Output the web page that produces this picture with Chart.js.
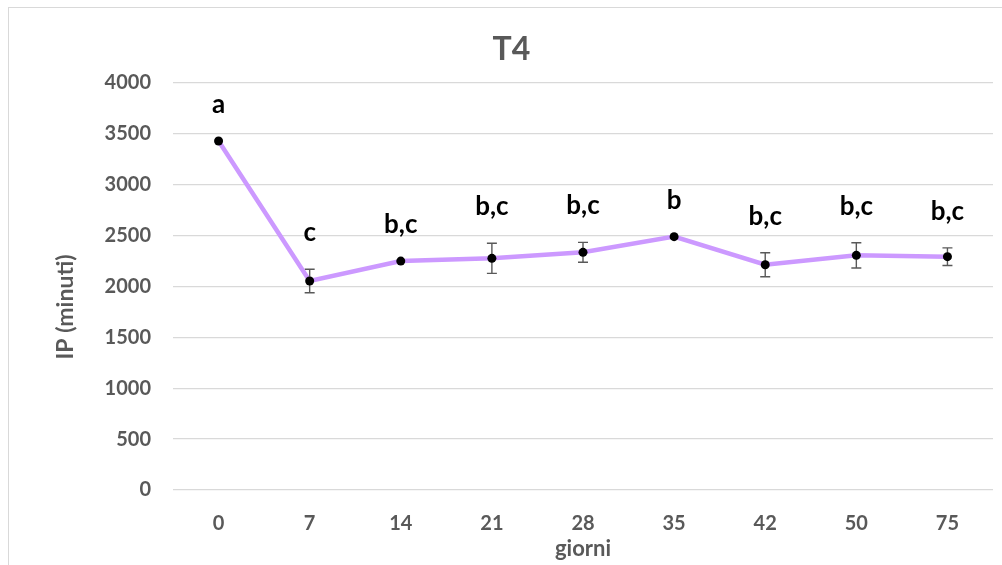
<!DOCTYPE html>
<html>
<head>
<meta charset="utf-8">
<script src="https://cdn.jsdelivr.net/npm/chart.js@4"></script>
<style>
  html, body { margin: 0; padding: 0; background: #fff; overflow: hidden; }
  #wrap { position: relative; width: 1002px; height: 565px; }
  #frame { position: absolute; left: 8px; top: 7px; width: 1010px; height: 600px; border: 1.5px solid #d9d9d9; box-sizing: border-box; }
  canvas { position: absolute; left: 0; top: 0; }
</style>
</head>
<body>
<div id="wrap">
  <div id="frame"></div>
  <canvas id="c" width="1002" height="565"></canvas>
</div>
<script>
const days = ['0', '7', '14', '21', '28', '35', '42', '50', '75'];
const ipMean = [3430, 2054, 2250, 2277, 2336, 2490, 2214, 2306, 2293];
const ipErr = [0, 115, 0, 148, 98, 0, 118, 124, 87];
const letters = ['a', 'c', 'b,c', 'b,c', 'b,c', 'b', 'b,c', 'b,c', 'b,c'];
const yTicks = [0, 500, 1000, 1500, 2000, 2500, 3000, 3500, 4000];

const FONT = 'Lato, "Open Sans", sans-serif';

const errorBars = {
  id: 'errorBars',
  beforeDatasetsDraw(chart) {
    const ctx = chart.ctx;
    const ys = chart.scales.y;
    const meta = chart.getDatasetMeta(0);
    ctx.save();
    ctx.strokeStyle = '#595959';
    ctx.lineWidth = 1.4;
    meta.data.forEach((pt, i) => {
      const e = ipErr[i];
      if (!e) return;
      const x = pt.x;
      const t = ys.getPixelForValue(ipMean[i] + e);
      const b = ys.getPixelForValue(ipMean[i] - e);
      ctx.beginPath();
      ctx.moveTo(x, t); ctx.lineTo(x, b);
      ctx.moveTo(x - 5, t); ctx.lineTo(x + 5, t);
      ctx.moveTo(x - 5, b); ctx.lineTo(x + 5, b);
      ctx.stroke();
    });
    ctx.restore();
  }
};

const letterLabels = {
  id: 'letterLabels',
  afterDatasetsDraw(chart) {
    const ctx = chart.ctx;
    const ys = chart.scales.y;
    const meta = chart.getDatasetMeta(0);
    ctx.save();
    ctx.fillStyle = '#000';
    ctx.font = 'bold 26px ' + FONT;
    ctx.textAlign = 'center';
    ctx.textBaseline = 'alphabetic';
    meta.data.forEach((pt, i) => {
      const top = ys.getPixelForValue(ipMean[i] + ipErr[i]);
      ctx.fillText(letters[i], pt.x, top - 28);
    });
    ctx.restore();
  }
};

const yTitle = {
  id: 'yTitle',
  afterDraw(chart) {
    const ctx = chart.ctx;
    ctx.save();
    ctx.translate(66, 307);
    ctx.rotate(-Math.PI / 2);
    ctx.fillStyle = '#595959';
    ctx.font = 'bold 23px ' + FONT;
    ctx.textAlign = 'center';
    ctx.textBaseline = 'middle';
    ctx.fillText('IP (minuti)', 0, 0);
    ctx.restore();
  }
};

new Chart(document.getElementById('c'), {
  type: 'line',
  data: {
    labels: days,
    datasets: [{
      data: ipMean,
      borderColor: '#cc99ff',
      borderWidth: 4.5,
      pointBackgroundColor: '#000',
      pointBorderColor: '#000',
      pointBorderWidth: 0,
      pointRadius: 4.5,
      tension: 0,
      fill: false
    }]
  },
  options: {
    responsive: false,
    animation: false,
    devicePixelRatio: 1,
    layout: { padding: { left: 30, right: 9, top: 0, bottom: 0 } },
    plugins: {
      legend: { display: false },
      tooltip: { enabled: false },
      title: {
        display: true,
        text: 'T4',
        color: '#595959',
        font: { family: FONT, size: 32, weight: 'bold', lineHeight: 1.2 },
        padding: { top: 30, bottom: 14.6 }
      }
    },
    scales: {
      x: {
        offset: true,
        grid: { display: false, offset: true },
        border: { display: false },
        ticks: { color: '#595959', font: { family: FONT, size: 20, weight: 'bold' }, padding: 14, maxRotation: 0 },
        title: { display: true, text: 'giorni', color: '#595959', font: { family: FONT, size: 22, weight: 'bold', lineHeight: 1.2 }, padding: { top: 0, bottom: 3 } },
        afterFit(s) { s.height = 75; }
      },
      y: {
        min: 0,
        max: 4000,
        afterBuildTicks(s) { s.ticks = yTicks.map(v => ({ value: v })); },
        grid: { color: '#d9d9d9', lineWidth: 1.3, drawTicks: false },
        border: { display: false },
        ticks: { color: '#595959', font: { family: FONT, size: 20, weight: 'bold' }, padding: 22, callback: v => String(v) },
        afterFit(s) { s.width = 143; }
      }
    }
  },
  plugins: [errorBars, letterLabels, yTitle]
});
</script>
</body>
</html>
